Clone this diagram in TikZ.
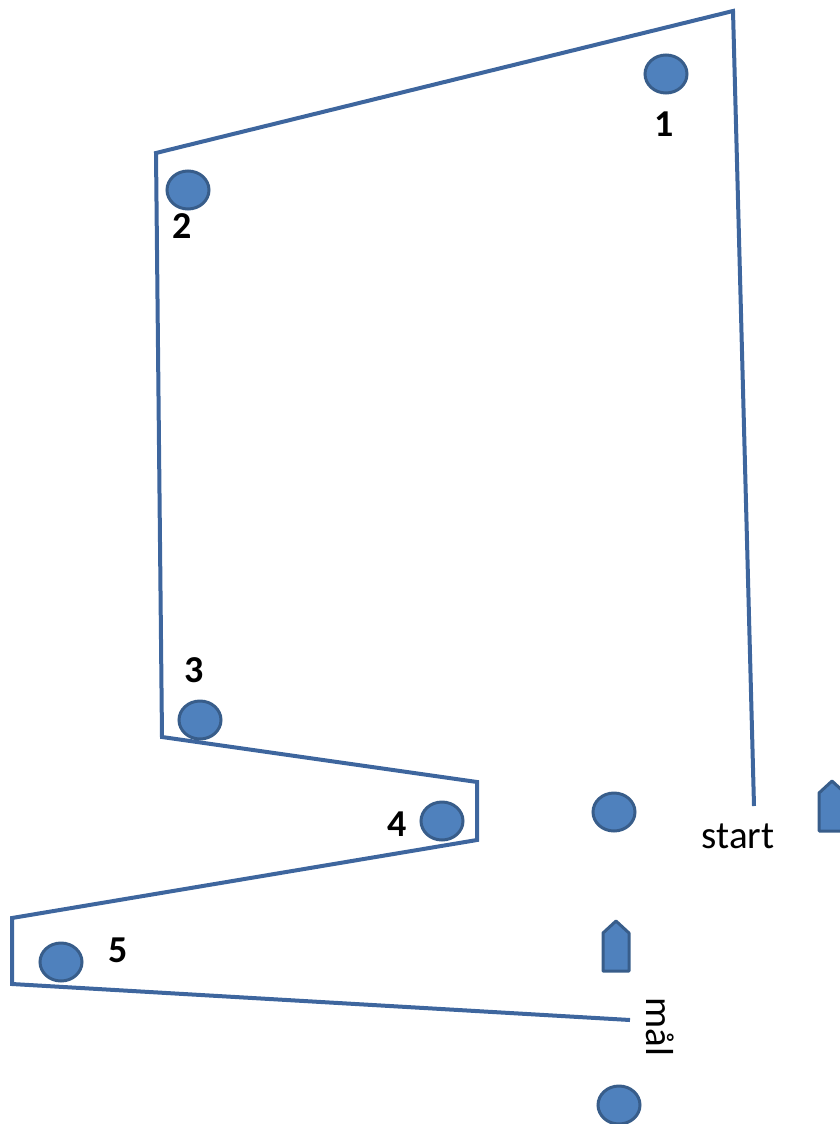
\documentclass[tikz,border=0pt]{standalone}
\usepackage{fontspec}
\setmainfont{Carlito}
\usetikzlibrary{shapes.geometric}
\definecolor{routeblue}{RGB}{62,102,158}
\definecolor{buoyfill}{RGB}{79,129,189}
\definecolor{buoyedge}{RGB}{56,93,138}
\tikzset{
  buoy/.style={ellipse, draw=buoyedge, fill=buoyfill, line width=3pt, minimum width=42pt, minimum height=38pt, inner sep=0pt},
  numlabel/.style={font=\fontsize{38}{40}\selectfont\bfseries, inner sep=0pt},
  plainlabel/.style={font=\fontsize{39}{41}\selectfont, inner sep=0pt},
  route/.style={draw=routeblue, line width=4pt, line join=miter},
  boatshape/.style={draw=buoyedge, fill=buoyfill, line width=3pt, line join=round}
}
\begin{document}
\begin{tikzpicture}[x=1pt, y=-1pt]
\useasboundingbox (0,0) rectangle (840,1124);
% route corners
\coordinate (s) at (754,806);
\coordinate (c1) at (733,11);
\coordinate (c2) at (156,153);
\coordinate (c3) at (162,737);
\coordinate (c4) at (477,782);
\coordinate (c5) at (477,840);
\coordinate (c6) at (12,918);
\coordinate (c7) at (12,984);
\coordinate (m) at (630,1020);
\draw[route] (s) -- (c1) -- (c2) -- (c3) -- (c4) -- (c5) -- (c6) -- (c7) -- (m);
% buoys
\node[buoy] (b1) at (666,74) {};
\node[buoy] (b2) at (188,190) {};
\node[buoy] (b3) at (200,720) {};
\node[buoy] (b4) at (442,821) {};
\node[buoy] (b5) at (61,962) {};
\node[buoy] (bs) at (614,812) {};
\node[buoy] (bm) at (619,1105) {};
% labels
\node[numlabel] (l1) at (664,124) {1};
\node[numlabel] (l2) at (182,226) {2};
\node[numlabel] (l3) at (194,670) {3};
\node[numlabel] (l4) at (397,824) {4};
\node[numlabel] (l5) at (118,950) {5};
\node[plainlabel, anchor=base] (ls) at (738,848) {start};
\node[plainlabel, rotate=-90] (lm) at (660,1027) {mål};
% boats
\coordinate (boatA) at (832,806);
\coordinate (boatB) at (616,946);
\foreach \b in {boatA,boatB}{
  \draw[boatshape] ([shift={(-13,25)}]\b) -- ([shift={(-13,-13)}]\b) -- ([shift={(0,-25)}]\b) -- ([shift={(13,-13)}]\b) -- ([shift={(13,25)}]\b) -- cycle;
}
\end{tikzpicture}
\end{document}
